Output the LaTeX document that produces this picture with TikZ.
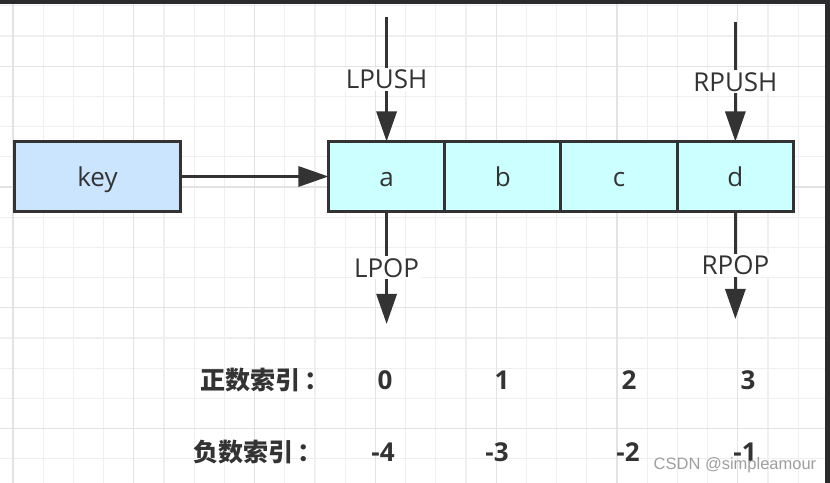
\documentclass[tikz,border=0pt]{standalone}
\usepackage{fontspec}
\setmainfont{Open Sans}
\newfontfamily\cjkfont{Noto Sans CJK SC}
\newfontfamily\markfont{Liberation Sans}
\usetikzlibrary{arrows.meta,positioning}
\definecolor{inkgray}{HTML}{333333}
\definecolor{keyblue}{HTML}{CCE5FF}
\definecolor{cellcyan}{HTML}{CCFFFF}
\definecolor{gridminor}{HTML}{EFEFEF}
\definecolor{gridmajor}{HTML}{E3E3E3}
\definecolor{framedark}{HTML}{2B2B2E}

\begin{document}
\begin{tikzpicture}[x=1bp,y=-1bp,
  box/.style={draw=inkgray, line width=3bp, minimum height=70bp, text=inkgray, text height=25bp, text depth=5bp, font=\fontsize{26bp}{30bp}\selectfont},
  keybox/.style={box, fill=keyblue, minimum width=166bp},
  cell/.style={box, fill=cellcyan, minimum width=116.25bp, outer sep=0pt},
  arr/.style={draw=inkgray, line width=3bp, -{Triangle[length=30bp,width=20bp]}},
  op/.style={fill=white, text=inkgray, inner sep=2bp, font=\fontsize{26bp}{30bp}\selectfont},
  idx/.style={text=inkgray, font=\fontsize{26bp}{30bp}\selectfont\bfseries},
  idxname/.style={text=inkgray, font=\cjkfont\fontsize{25bp}{29bp}\selectfont\bfseries}]
\useasboundingbox (0,0) rectangle (830,483);
\fill[white] (0,0) rectangle (830,483);
\foreach \gx in {13,43.2,...,830} \draw[gridminor, line width=1.2bp] (\gx,0) -- (\gx,483);
\foreach \gy in {5.8,36,...,483} \draw[gridminor, line width=1.2bp] (0,\gy) -- (830,\gy);
\foreach \gx in {13,133.8,...,830} \draw[gridmajor, line width=1.2bp] (\gx,0) -- (\gx,483);
\foreach \gy in {66.2,187,...,483} \draw[gridmajor, line width=1.2bp] (0,\gy) -- (830,\gy);
\fill[framedark] (0,0) rectangle (830,4);
\fill[framedark] (825,0) rectangle (830,483);

\node[keybox] (key) at (97.5,176.5) {key};
\node[cell] (a) at (386.6,176.5) {a};
\node[cell, right=0pt of a] (b) {b};
\node[cell, right=0pt of b] (c) {c};
\node[cell, right=0pt of c] (d) {d};

\coordinate (lpushtop) at (a |- 0,17);
\coordinate (rpushtop) at (d |- 0,22);
\coordinate (lpopend) at (a |- 0,324);
\coordinate (rpopend) at (d |- 0,319);

\draw[arr] (key) -- (a);
\draw[arr] (lpushtop) -- node[op] {LPUSH} (a.north);
\draw[arr] (rpushtop) -- node[op] {RPUSH} (d.north);
\draw[arr] (a.south) -- node[op] {LPOP} (lpopend);
\draw[arr] (d.south) -- node[op] {RPOP} (rpopend);

\node[idxname] (posname) at (265,380) {正数索引\kern4bp：};
\node[idx] (p0) at (385,380) {0};
\node[idx] (p1) at (502,380) {1};
\node[idx] (p2) at (629,380) {2};
\node[idx] (p3) at (748,380) {3};

\node[idxname] (negname) at (258,452) {负数索引\kern4bp：};
\node[idx] (n4) at (383,452) {-4};
\node[idx] (n3) at (497,452) {-3};
\node[idx] (n2) at (628,452) {-2};
\node[idx] (n1) at (745,452) {-1};

\node[text=gray!75, font=\markfont\fontsize{16.5bp}{18bp}\selectfont] (mark) at (735,465) {CSDN @simpleamour};
\end{tikzpicture}
\end{document}
